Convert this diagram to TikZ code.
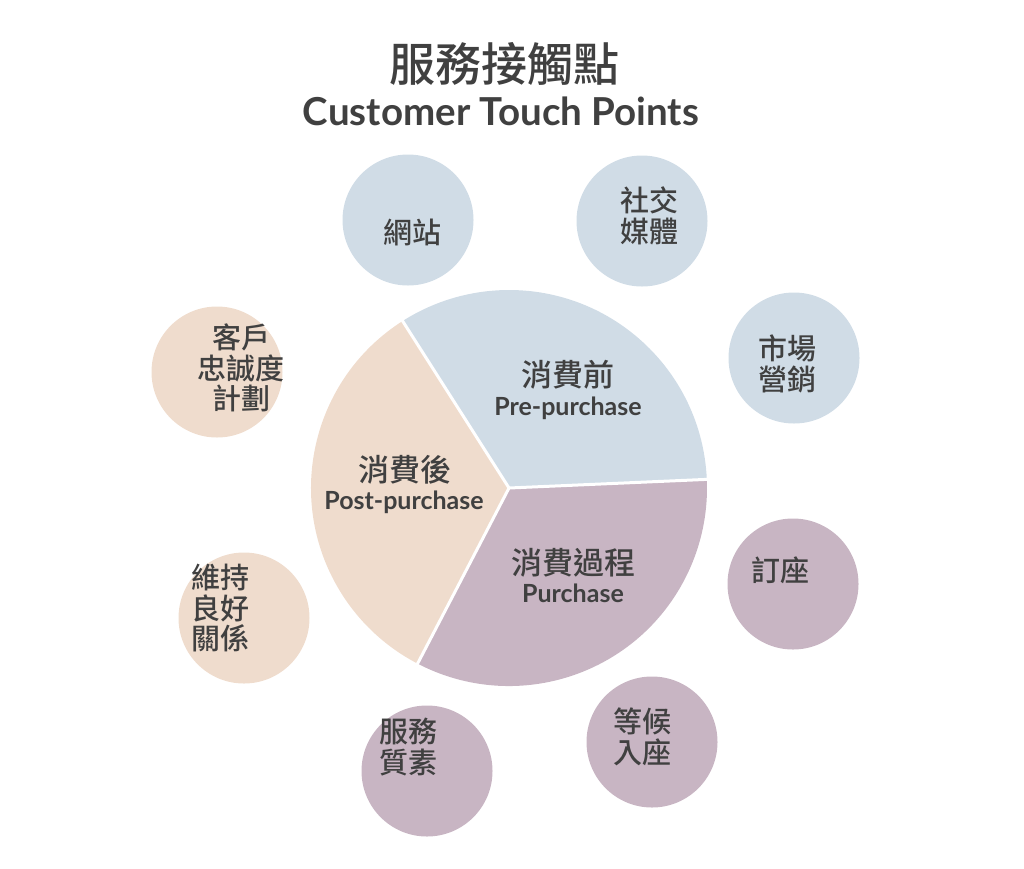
\documentclass[tikz,border=0pt]{standalone}
\usepackage{fontspec}
\setmainfont{Lato}
\newfontfamily\cjk{Noto Sans CJK TC Medium}
\definecolor{prebg}{RGB}{208,220,230}
\definecolor{postbg}{RGB}{239,220,205}
\definecolor{purbg}{RGB}{200,181,195}
\definecolor{ink}{RGB}{64,64,64}
\begin{document}
\begin{tikzpicture}[x=1pt,y=-1pt,
    touch/.style={circle,inner sep=0pt,minimum size=131pt},
    touchtext/.style={text=ink,align=center,inner sep=0pt,font=\cjk\fontsize{29}{30.5}\selectfont},
    stagezh/.style={text=ink,inner sep=0pt,font=\cjk\fontsize{31}{33}\selectfont},
    stageen/.style={text=ink,inner sep=0pt,anchor=base,font=\bfseries\fontsize{25}{27}\selectfont},
    gap/.style={draw=white,line width=3pt}]
    \useasboundingbox (0,0) rectangle (1024,868);

    % title
    \node[text=ink,inner sep=0pt,font=\cjk\fontsize{46}{48}\selectfont] (titlezh) at (504,64) {服務接觸點};
    \node[text=ink,inner sep=0pt,anchor=base,font=\bfseries\fontsize{38.5}{40}\selectfont] (titleen) at (501,125) {Customer Touch Points};

    % three stages
    \coordinate (hub) at (509,488);
    \fill[prebg] (hub) -- ++(-2.5:198) arc[start angle=-2.5,end angle=-122.5,radius=198] -- cycle;
    \fill[postbg] (hub) -- ++(-122.5:198) arc[start angle=-122.5,end angle=-242.5,radius=198] -- cycle;
    \fill[purbg] (hub) -- ++(-242.5:198) arc[start angle=-242.5,end angle=-362.5,radius=198] -- cycle;
    \path (hub) ++(-2.5:200) coordinate (rimright);
    \path (hub) ++(-122.5:200) coordinate (rimtop);
    \path (hub) ++(-242.5:200) coordinate (rimbottom);
    \draw[gap] (hub) -- (rimright);
    \draw[gap] (hub) -- (rimtop);
    \draw[gap] (hub) -- (rimbottom);

    \node[stagezh] (prezh) at (568,375) {消費前};
    \node[stageen] (preen) at (568,415) {Pre-purchase};
    \node[stagezh] (postzh) at (405,470) {消費後};
    \node[stageen] (posten) at (404,509) {Post-purchase};
    \node[stagezh] (purzh) at (573,563) {消費過程};
    \node[stageen] (puren) at (573,602) {Purchase};

    % touch points
    \node[touch,fill=prebg] (web) at (408,220) {};
    \node[touchtext] (webtext) at (412,232) {網站};
    \node[touch,fill=prebg] (social) at (642,221) {};
    \node[touchtext] (socialtext) at (649,216) {社交\\媒體};
    \node[touch,fill=prebg] (market) at (794,358) {};
    \node[touchtext] (markettext) at (787,364) {市場\\營銷};
    \node[touch,fill=purbg] (booking) at (793,584) {};
    \node[touchtext] (bookingtext) at (780,570) {訂座};
    \node[touch,fill=purbg] (waiting) at (652,742) {};
    \node[touchtext] (waitingtext) at (642,737) {等候\\入座};
    \node[touch,fill=purbg] (service) at (427,771) {};
    \node[touchtext] (servicetext) at (408,747) {服務\\質素};
    \node[touch,fill=postbg] (relation) at (244,618) {};
    \node[touchtext] (relationtext) at (220,608) {維持\\良好\\關係};
    \node[touch,fill=postbg] (loyalty) at (217,372) {};
    \node[touchtext] (loyaltytext) at (241,368) {客戶\\忠誠度\\計劃};
\end{tikzpicture}
\end{document}
